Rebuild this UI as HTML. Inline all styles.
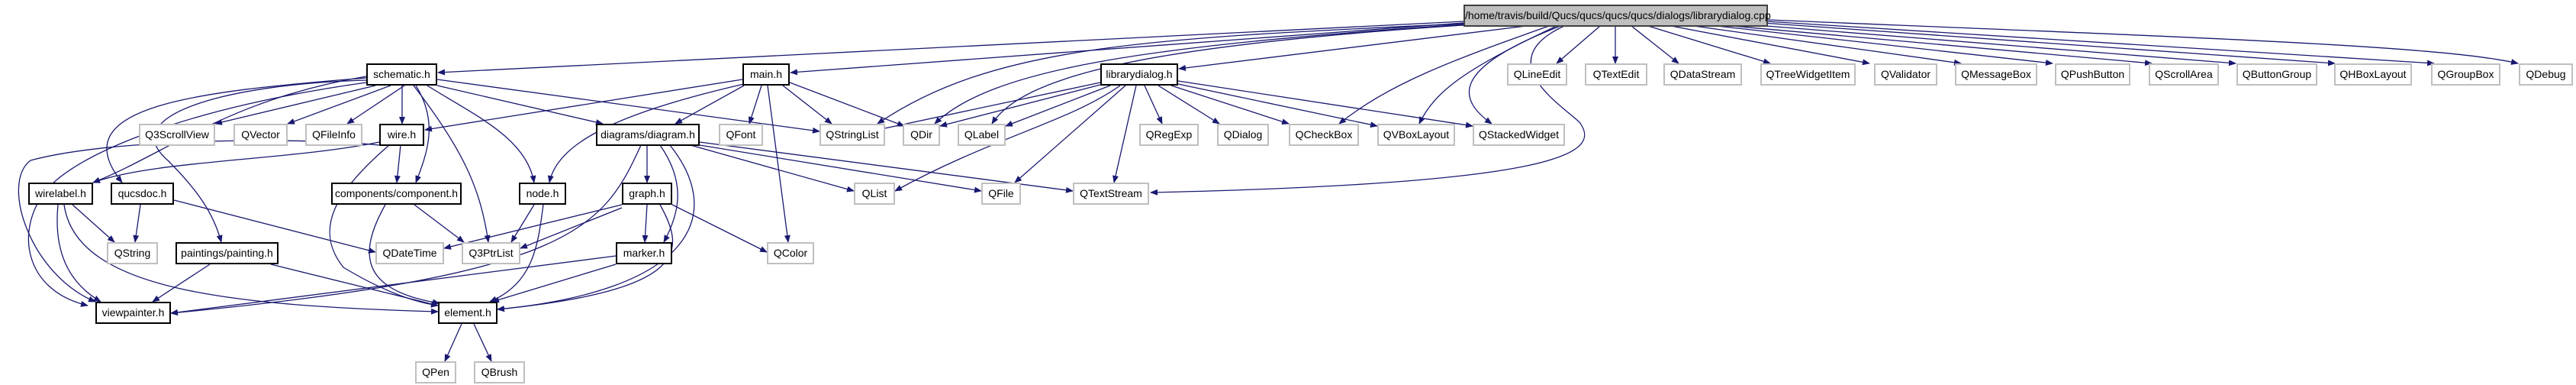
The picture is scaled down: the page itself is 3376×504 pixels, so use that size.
<!DOCTYPE html>
<html><head><meta charset="utf-8"><style>
html,body{margin:0;padding:0;background:#fff;}
body{width:3376px;height:504px;position:relative;overflow:hidden;font-family:"Liberation Sans",Arial,sans-serif;}
.n{position:absolute;box-sizing:border-box;height:29px;border:2px solid #bfbfbf;background:#fff;font-size:14px;line-height:25px;text-align:center;color:#000;white-space:nowrap;}
.d{border:2px solid #000;}
.r{background:#bfbfbf;border:2px solid #404040;}
svg{position:absolute;left:0;top:0;}
</style></head><body>
<svg width="3376" height="504" viewBox="0 0 3376 504">
<defs><marker id="a" markerWidth="10" markerHeight="8" refX="9" refY="4" orient="auto" markerUnits="userSpaceOnUse"><path d="M0,0 L10,4 L0,8 z" fill="#191970"/></marker></defs>
<g fill="none" stroke="#191970" stroke-width="1.3" marker-end="url(#a)">
<!-- root edges -->
<path d="M1918,28 L574,95"/>
<path d="M1918,30 L1036,95"/>
<path d="M1918,31 C1500,50 1300,60 1150,162"/>
<path d="M1918,32 C1500,60 1300,90 1225,162"/>
<path d="M1918,33 C1500,60 1340,100 1300,162"/>
<path d="M2000,34 L1545,90"/>
<path d="M2030,34 C1900,80 1820,110 1755,162"/>
<path d="M2040,34 C1920,90 1880,120 1860,162"/>
<path d="M2045,34 C1900,90 1910,130 1955,162"/>
<path d="M2050,34 C1950,80 2050,140 2070,160 C2100,200 2050,240 1508,252"/>
<path d="M2097,34 L2040,83"/>
<path d="M2117,34 L2117,83"/>
<path d="M2138,34 L2200,83"/>
<path d="M2160,34 L2320,83"/>
<path d="M2190,34 L2450,83"/>
<path d="M2220,34 L2570,83"/>
<path d="M2250,34 L2690,83"/>
<path d="M2270,34 L2820,83"/>
<path d="M2290,32 L2930,83"/>
<path d="M2310,30 L3060,83"/>
<path d="M2315,28 L3190,83"/>
<path d="M2317,26 C2900,50 3200,60 3300,83"/>
<!-- schematic.h -->
<path d="M492,112 L282,162"/>
<path d="M512,112 L377,162"/>
<path d="M530,112 L455,162"/>
<path d="M527,112 L527,162"/>
<path d="M573,112 L790,162"/>
<path d="M573,104 L1074,172"/>
<path d="M480,100 C300,130 220,200 122,239"/>
<path d="M480,102 C250,120 80,140 160,239"/>
<path d="M545,112 C575,160 560,200 545,239"/>
<path d="M560,112 C620,150 690,180 700,239"/>
<path d="M542,112 C610,200 630,250 640,317"/>
<path d="M480,105 C300,110 150,150 220,210 C260,250 280,280 290,317"/>
<path d="M480,108 C250,140 100,200 60,250 C20,300 30,380 115,400"/>
<!-- main.h -->
<path d="M973,104 L557,170"/>
<path d="M975,110 C800,150 730,190 720,239"/>
<path d="M975,112 L885,162"/>
<path d="M998,112 L982,162"/>
<path d="M1026,112 L1090,162"/>
<path d="M1035,108 L1185,165"/>
<path d="M1006,112 L1033,317"/>
<!-- librarydialog.h -->
<path d="M1442,108 L1150,170"/>
<path d="M1442,111 L1232,165"/>
<path d="M1455,112 L1318,165"/>
<path d="M1468,112 C1400,160 1300,180 1173,250"/>
<path d="M1475,112 L1330,239"/>
<path d="M1489,112 L1460,239"/>
<path d="M1500,112 L1523,162"/>
<path d="M1518,112 L1598,162"/>
<path d="M1535,112 L1689,162"/>
<path d="M1544,110 L1805,165"/>
<path d="M1544,106 L1930,165"/>
<!-- wire.h -->
<path d="M497,186 C380,210 200,210 122,239"/>
<path d="M497,190 C400,180 150,180 40,210 C0,240 40,360 125,395"/>
<path d="M525,190 L520,239"/>
<path d="M510,190 C440,250 410,300 450,350 C500,380 540,395 574,400"/>
<!-- diagram.h -->
<path d="M848,190 L848,239"/>
<path d="M905,190 L1119,250"/>
<path d="M917,190 L1286,250"/>
<path d="M917,186 L1406,250"/>
<path d="M865,190 C900,240 890,280 870,317"/>
<path d="M878,190 C950,280 910,380 652,405"/>
<path d="M840,190 C790,300 750,360 224,410"/>
<!-- wirelabel.h -->
<path d="M95,268 L150,317"/>
<path d="M76,268 C70,330 90,370 132,395"/>
<path d="M84,268 C100,380 300,400 574,408"/>
<!-- qucsdoc.h -->
<path d="M184,268 L177,317"/>
<path d="M228,262 L492,330"/>
<!-- component.h -->
<path d="M505,268 C470,330 470,380 576,397"/>
<path d="M543,268 L608,317"/>
<!-- node.h -->
<path d="M700,268 L670,317"/>
<path d="M712,268 C705,320 700,370 642,395"/>
<!-- graph.h -->
<path d="M815,268 L582,325"/>
<path d="M815,272 L682,325"/>
<path d="M848,268 L845,317"/>
<path d="M865,268 C900,330 900,380 652,405"/>
<path d="M881,268 L1005,330"/>
<!-- painting.h -->
<path d="M275,346 L200,395"/>
<path d="M355,346 L574,400"/>
<!-- marker.h -->
<path d="M807,335 L224,410"/>
<path d="M807,346 L645,395"/>
<!-- element.h -->
<path d="M605,424 L583,473"/>
<path d="M621,424 L644,473"/>
</g>
</svg>
<div class="n r" style="left:1918px;top:6px;width:399px;">/home/travis/build/Qucs/qucs/qucs/qucs/dialogs/librarydialog.cpp</div>
<div class="n d" style="left:480px;top:83px;width:93px;">schematic.h</div>
<div class="n d" style="left:973px;top:83px;width:62px;">main.h</div>
<div class="n d" style="left:1442px;top:83px;width:102px;">librarydialog.h</div>
<div class="n" style="left:1975px;top:83px;width:79px;">QLineEdit</div>
<div class="n" style="left:2077px;top:83px;width:82px;">QTextEdit</div>
<div class="n" style="left:2180px;top:83px;width:103px;">QDataStream</div>
<div class="n" style="left:2307px;top:83px;width:125px;">QTreeWidgetItem</div>
<div class="n" style="left:2456px;top:83px;width:83px;">QValidator</div>
<div class="n" style="left:2562px;top:83px;width:108px;">QMessageBox</div>
<div class="n" style="left:2693px;top:83px;width:99px;">QPushButton</div>
<div class="n" style="left:2816px;top:83px;width:92px;">QScrollArea</div>
<div class="n" style="left:2931px;top:83px;width:106px;">QButtonGroup</div>
<div class="n" style="left:3059px;top:83px;width:102px;">QHBoxLayout</div>
<div class="n" style="left:3186px;top:83px;width:91px;">QGroupBox</div>
<div class="n" style="left:3301px;top:83px;width:71px;">QDebug</div>
<div class="n" style="left:182px;top:162px;width:100px;">Q3ScrollView</div>
<div class="n" style="left:306px;top:162px;width:71px;">QVector</div>
<div class="n" style="left:400px;top:162px;width:75px;">QFileInfo</div>
<div class="n d" style="left:497px;top:162px;width:59px;">wire.h</div>
<div class="n d" style="left:781px;top:162px;width:136px;">diagrams/diagram.h</div>
<div class="n" style="left:942px;top:162px;width:58px;">QFont</div>
<div class="n" style="left:1074px;top:162px;width:86px;">QStringList</div>
<div class="n" style="left:1183px;top:162px;width:49px;">QDir</div>
<div class="n" style="left:1255px;top:162px;width:63px;">QLabel</div>
<div class="n" style="left:1493px;top:162px;width:78px;">QRegExp</div>
<div class="n" style="left:1595px;top:162px;width:68px;">QDialog</div>
<div class="n" style="left:1689px;top:162px;width:92px;">QCheckBox</div>
<div class="n" style="left:1805px;top:162px;width:102px;">QVBoxLayout</div>
<div class="n" style="left:1930px;top:162px;width:121px;">QStackedWidget</div>
<div class="n d" style="left:37px;top:239px;width:85px;">wirelabel.h</div>
<div class="n d" style="left:145px;top:239px;width:83px;">qucsdoc.h</div>
<div class="n d" style="left:434px;top:239px;width:171px;">components/component.h</div>
<div class="n d" style="left:680px;top:239px;width:62px;">node.h</div>
<div class="n d" style="left:815px;top:239px;width:66px;">graph.h</div>
<div class="n" style="left:1119px;top:239px;width:54px;">QList</div>
<div class="n" style="left:1286px;top:239px;width:52px;">QFile</div>
<div class="n" style="left:1406px;top:239px;width:100px;">QTextStream</div>
<div class="n" style="left:140px;top:317px;width:67px;">QString</div>
<div class="n d" style="left:230px;top:317px;width:135px;">paintings/painting.h</div>
<div class="n" style="left:492px;top:317px;width:90px;">QDateTime</div>
<div class="n" style="left:605px;top:317px;width:77px;">Q3PtrList</div>
<div class="n d" style="left:807px;top:317px;width:74px;">marker.h</div>
<div class="n" style="left:1005px;top:317px;width:62px;">QColor</div>
<div class="n d" style="left:125px;top:395px;width:99px;">viewpainter.h</div>
<div class="n d" style="left:574px;top:395px;width:78px;">element.h</div>
<div class="n" style="left:544px;top:473px;width:54px;">QPen</div>
<div class="n" style="left:621px;top:473px;width:67px;">QBrush</div>
</body></html>
